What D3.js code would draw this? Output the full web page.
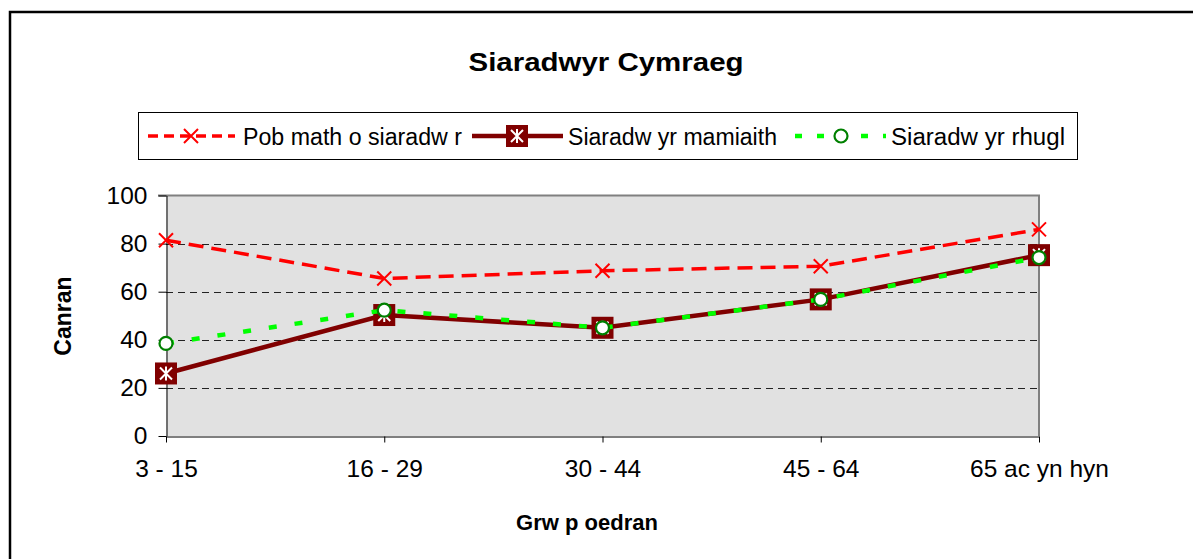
<!DOCTYPE html>
<html>
<head>
<meta charset="utf-8">
<script src="https://cdn.jsdelivr.net/npm/d3@7"></script>
<style>
  body { margin: 0; background: #fff; }
  svg { display: block; font-family: "Liberation Sans", Arial, sans-serif; }
</style>
</head>
<body>
<div id="chart"></div>
<script>
var categories = ["3 - 15", "16 - 29", "30 - 44", "45 - 64", "65 ac yn hyn"];
var pobMath = [81.4, 65.5, 68.7, 70.6, 85.9];
var mamiaith = [26.0, 50.3, 45.0, 56.8, 75.2];
var rhugl = [38.5, 52.3, 45.0, 56.8, 74.2];
var yTicks = [0, 20, 40, 60, 80, 100];
var seriesNames = ["Pob math o siaradw r", "Siaradw yr mamiaith", "Siaradw yr rhugl"];

var width = 1193, height = 559;
var plot = {left: 166, right: 1039, top: 195.5, bottom: 436};

var svg = d3.select("#chart").append("svg").attr("width", width).attr("height", height);

// outer frame, only top and left edges are visible in the picture
svg.append("rect").attr("x", 10).attr("y", 12).attr("width", 1300).attr("height", 700)
    .attr("fill", "none").attr("stroke", "#000").attr("stroke-width", 2.5);

svg.append("text").attr("x", 606).attr("y", 71).attr("text-anchor", "middle")
    .attr("font-size", 25).attr("font-weight", "bold").attr("textLength", 275)
    .attr("lengthAdjust", "spacingAndGlyphs")
    .text("Siaradwyr Cymraeg");

var x = d3.scalePoint().domain(categories).range([plot.left, plot.right]).padding(0);
var y = d3.scaleLinear().domain([0, 100]).range([plot.bottom, plot.top]);

// plot background
svg.append("rect").attr("x", plot.left).attr("y", plot.top)
    .attr("width", plot.right - plot.left).attr("height", plot.bottom - plot.top)
    .attr("fill", "#e1e1e1");

// grid lines
svg.append("g").selectAll("line").data(yTicks.filter(function(d){ return d > 0 && d < 100; }))
    .enter().append("line")
    .attr("x1", plot.left).attr("x2", plot.right)
    .attr("y1", function(d){ return Math.round(y(d)) + 0.5; })
    .attr("y2", function(d){ return Math.round(y(d)) + 0.5; })
    .attr("stroke", "#222").attr("stroke-dasharray", "7,5");

// top and right border of plot area
svg.append("path")
    .attr("d", "M" + (plot.left - 8) + "," + plot.top + "H" + plot.right + "V" + plot.bottom)
    .attr("fill", "none").attr("stroke", "#808080").attr("stroke-width", 2);

// axes
var yAxis = svg.append("g").attr("transform", "translate(" + (plot.left + 0.5) + ",0)")
    .call(d3.axisLeft(y).tickValues(yTicks).tickSizeInner(8).tickSizeOuter(0).tickPadding(11));
var xAxis = svg.append("g").attr("transform", "translate(0," + (plot.bottom + 0.5) + ")")
    .call(d3.axisBottom(x).tickSizeInner(6).tickSizeOuter(0).tickPadding(17.5));
[yAxis, xAxis].forEach(function(ax) {
    ax.selectAll("text").attr("font-size", 24.5).attr("fill", "#000")
        .attr("font-family", "Liberation Sans, Arial, sans-serif");
    ax.selectAll("line, path").attr("stroke", "#000");
});

// axis titles
svg.append("text").attr("transform", "translate(71,316) rotate(-90)").attr("text-anchor", "middle")
    .attr("font-size", 23).attr("font-weight", "bold").text("Canran");
svg.append("text").attr("x", 587).attr("y", 530).attr("text-anchor", "middle")
    .attr("font-size", 22).attr("font-weight", "bold").text("Grw p oedran");

// markers
function crossMarker(g, cx, cy) {
    g.append("path").attr("d", "M" + (cx - 7) + "," + (cy - 7) + "L" + (cx + 7) + "," + (cy + 7) +
            "M" + (cx - 7) + "," + (cy + 7) + "L" + (cx + 7) + "," + (cy - 7))
        .attr("stroke", "#ff0000").attr("stroke-width", 2).attr("fill", "none");
}
function squareMarker(g, cx, cy) {
    g.append("rect").attr("x", cx - 11).attr("y", cy - 11).attr("width", 22).attr("height", 22)
        .attr("fill", "#800000");
    g.append("path").attr("d", "M" + (cx - 6) + "," + (cy - 6) + "L" + (cx + 6) + "," + (cy + 6) +
            "M" + (cx - 6) + "," + (cy + 6) + "L" + (cx + 6) + "," + (cy - 6) +
            "M" + cx + "," + (cy - 7) + "L" + cx + "," + (cy + 7))
        .attr("stroke", "#fff").attr("stroke-width", 2).attr("fill", "none");
}
function circleMarker(g, cx, cy) {
    g.append("circle").attr("cx", cx).attr("cy", cy).attr("r", 6.5)
        .attr("fill", "#fff").attr("stroke", "#008000").attr("stroke-width", 2.2);
}

var series = [
    {name: seriesNames[0], values: pobMath, color: "#ff0000", width: 3.5, dash: "15,8", marker: crossMarker},
    {name: seriesNames[1], values: mamiaith, color: "#800000", width: 4.5, dash: null, marker: squareMarker},
    {name: seriesNames[2], values: rhugl, color: "#00ff00", width: 4.5, dash: "8,18", marker: circleMarker}
];

var line = d3.line()
    .x(function(d, i){ return x(categories[i]); })
    .y(function(d){ return y(d); });

series.forEach(function(s) {
    var g = svg.append("g");
    g.append("path").attr("d", line(s.values)).attr("fill", "none")
        .attr("stroke", s.color).attr("stroke-width", s.width)
        .attr("stroke-dasharray", s.dash);
    s.values.forEach(function(v, i) {
        s.marker(g, x(categories[i]), y(v));
    });
});

// legend
var legend = svg.append("g");
legend.append("rect").attr("x", 138.5).attr("y", 112.5).attr("width", 939).attr("height", 47)
    .attr("fill", "#fff").attr("stroke", "#000").attr("stroke-width", 1);
var legendItems = [
    {x1: 148, x2: 235, mx: 191, tx: 243, tw: 219},
    {x1: 472, x2: 563, mx: 517, tx: 568, tw: 209},
    {x1: 795, x2: 886, mx: 841, tx: 891, tw: 174}
];
series.forEach(function(s, i) {
    var it = legendItems[i], ly = 136;
    legend.append("line").attr("x1", it.x1).attr("x2", it.x2).attr("y1", ly).attr("y2", ly)
        .attr("stroke", s.color).attr("stroke-width", s.width)
        .attr("stroke-dasharray", i === 0 ? "10,6" : (i === 2 ? "7,15" : null));
    s.marker(legend, it.mx, ly);
    legend.append("text").attr("x", it.tx).attr("y", ly + 8.5).attr("font-size", 23.5)
        .attr("textLength", it.tw).attr("lengthAdjust", "spacingAndGlyphs").text(s.name);
});
</script>
</body>
</html>
